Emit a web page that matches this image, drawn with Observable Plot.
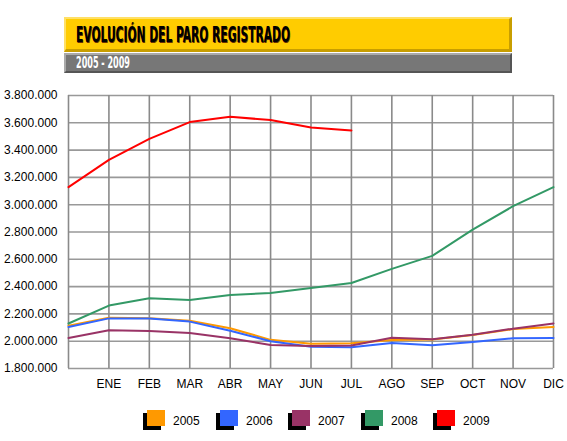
<!DOCTYPE html>
<html><head><meta charset="utf-8">
<script src="https://cdn.jsdelivr.net/npm/d3@7"></script>
<script src="https://cdn.jsdelivr.net/npm/@observablehq/plot@0.6"></script>
<style>
body{margin:0;background:#fff;width:567px;height:441px;position:relative;overflow:hidden;font-family:"Liberation Sans",Arial,sans-serif}
#title{position:absolute;left:64px;top:17px;width:448px;height:35px;background:#FFCC00;box-sizing:border-box;border-top:2px solid #FFE066;border-left:2px solid #FFE066;border-bottom:3px solid #C89E00;border-right:3px solid #C89E00}
#title span{position:absolute;left:10px;top:4px;font:bold 21px "Liberation Sans Narrow","DejaVu Sans Condensed",sans-serif;color:#000;text-shadow:1px 1px 0 #6b3000;white-space:nowrap;transform-origin:0 50%}
#sub{position:absolute;left:64px;top:53px;width:448px;height:20px;background:#777;box-sizing:border-box;border-top:2px solid #aaa;border-left:2px solid #aaa;border-bottom:2px solid #555;border-right:2px solid #555}
#sub span{position:absolute;left:10px;top:-1px;font:bold 15px "Liberation Sans Narrow","DejaVu Sans Condensed",sans-serif;color:#fff;white-space:nowrap;transform-origin:0 50%}
#chart{position:absolute;left:0;top:85px}
.lg{position:absolute;top:410px}
.lg .sh{position:absolute;left:-4px;top:3px;width:18px;height:17px;background:#000}
.lg .sw{position:absolute;left:0;top:0;width:18px;height:16px}
.lg .tx{position:absolute;left:26px;top:4px;font:12px "Liberation Sans",Arial,sans-serif;color:#000}
</style></head>
<body>
<div id="title"><span id="tt">EVOLUCIÓN DEL PARO REGISTRADO</span></div>
<div id="sub"><span id="st">2005 - 2009</span></div>
<div id="chart"></div>
<div id="legend"></div>
<script>
const months = ["", "ENE", "FEB", "MAR", "ABR", "MAY", "JUN", "JUL", "AGO", "SEP", "OCT", "NOV", "DIC"];
const years = ["2005", "2006", "2007", "2008", "2009"];
const colors = ["#FF9900", "#3366FF", "#993366", "#339966", "#FF0000"];
// first value = December of previous year
const v2005 = [2113718, 2172114, 2167776, 2150116, 2095468, 2009839, 1980934, 1985100, 2008213, 2013089, 2044800, 2088500, 2103731];
const v2006 = [2103731, 2167119, 2167173, 2143580, 2076510, 2000100, 1959800, 1955000, 1987000, 1970000, 1994800, 2022000, 2022873];
const v2007 = [2022873, 2081000, 2075000, 2060000, 2021000, 1972000, 1964000, 1969000, 2025000, 2014000, 2048000, 2092000, 2129547];
const v2008 = [2129547, 2261000, 2315000, 2300975, 2338517, 2353000, 2390000, 2426000, 2530000, 2625000, 2818000, 2989000, 3128963];
const v2009 = [3128963, 3327801, 3481859, 3605402, 3644041, 3620139, 3564889, 3544105];
const yTicks = d3.range(1800000, 3800001, 200000);

const series = [v2005, v2006, v2007, v2008, v2009];
const rows = [];
series.forEach((vals, i) => vals.forEach((v, m) => rows.push({year: years[i], m, v})));

const loc = d3.formatLocale({decimal: ",", thousands: ".", grouping: [3], currency: ["", ""]});
const fmt = loc.format(",");

const chart = Plot.plot({
  width: 567, height: 308,
  marginLeft: 68, marginRight: 14, marginTop: 10, marginBottom: 25,
  style: {fontFamily: '"Liberation Sans", Arial, sans-serif', fontSize: "12px", color: "#000", background: "transparent", overflow: "visible"},
  x: {type: "linear", domain: [0, 12]},
  y: {domain: [1800000, 3800000]},
  color: {domain: years, range: colors},
  marks: [
    Plot.ruleY(yTicks, {stroke: "#999", strokeWidth: 1.6}),
    Plot.ruleX(d3.range(0, 13), {stroke: "#8a8a8a", strokeWidth: 1.6}),
    Plot.axisY({ticks: yTicks, tickSize: 0, tickPadding: 11, tickFormat: fmt, label: null, fill: "#000"}),
    Plot.axisX({ticks: d3.range(1, 13), tickSize: 0, tickPadding: 11, tickFormat: d => months[d], label: null, fill: "#000"}),
    Plot.line(rows, {x: "m", y: "v", z: "year", stroke: "year", strokeWidth: 2})
  ]
});
document.getElementById("chart").appendChild(chart);

function fitWidth(id, w) {
  const el = document.getElementById(id);
  const cur = el.getBoundingClientRect().width;
  if (cur > 0) el.style.transform = `scaleX(${w / cur})`;
}
fitWidth("tt", 214);
fitWidth("st", 54);

const lg = document.getElementById("legend");
const lx = [147, 220, 292, 365, 437];
years.forEach((y, i) => {
  const d = document.createElement("div");
  d.className = "lg";
  d.style.left = lx[i] + "px";
  d.innerHTML = `<div class="sh"></div><div class="sw" style="background:${colors[i]}"></div><div class="tx">${y}</div>`;
  lg.appendChild(d);
});
</script>
</body></html>
